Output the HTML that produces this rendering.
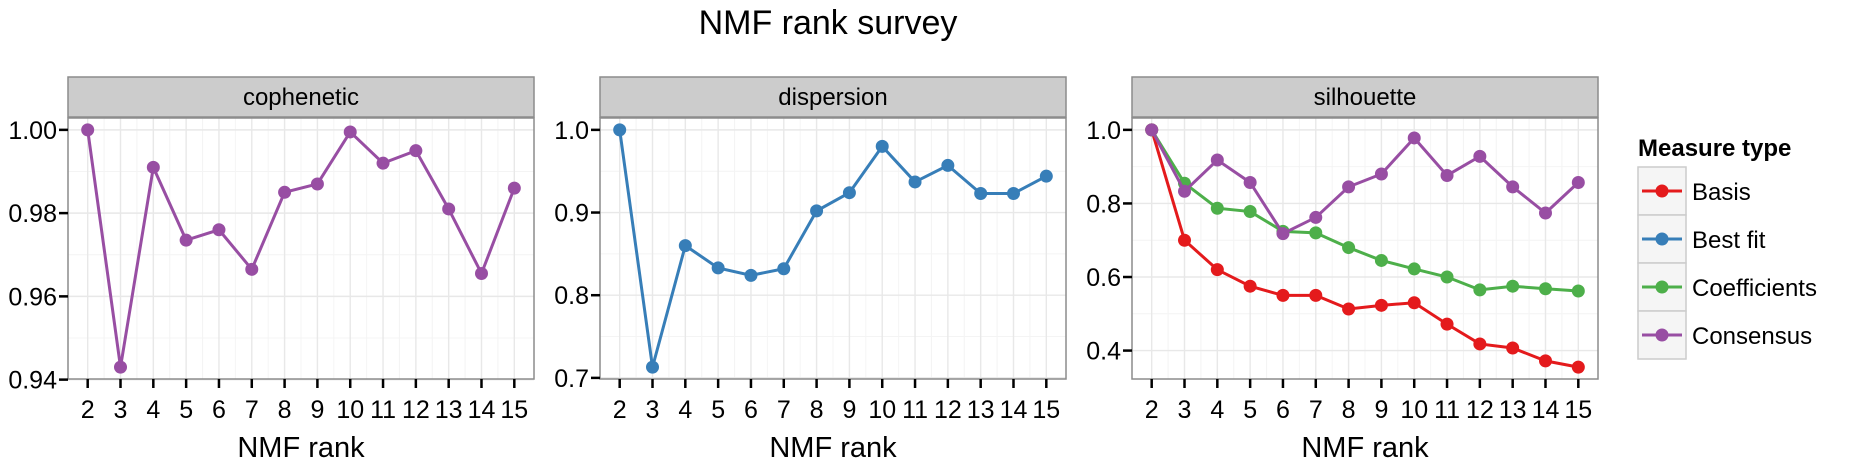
<!DOCTYPE html>
<html><head><meta charset="utf-8"><style>
html,body{margin:0;padding:0;background:#fff;}
svg{display:block;font-family:"Liberation Sans",Arial,sans-serif;}
</style></head><body>
<svg id="chart" width="1849" height="471" viewBox="0 0 1849 471" xmlns="http://www.w3.org/2000/svg">
<text x="828" y="34" font-size="34" text-anchor="middle" fill="#000">NMF rank survey</text>
<g id="panels"></g>
<g>
<text x="1638" y="156" font-size="24" font-weight="bold">Measure type</text>
<g id="legend-keys"></g>
</g>
</svg>
<script>
const ranks = [2,3,4,5,6,7,8,9,10,11,12,13,14,15];
const cophenetic = [1.000,0.943,0.991,0.9735,0.976,0.9665,0.985,0.987,0.9995,0.992,0.995,0.981,0.9655,0.986];
const dispersion = [1.0,0.713,0.860,0.833,0.824,0.832,0.902,0.924,0.980,0.937,0.957,0.923,0.923,0.944];
const silBasis = [1.0,0.70,0.62,0.575,0.55,0.55,0.513,0.523,0.53,0.472,0.418,0.407,0.372,0.355];
const silCoefficients = [1.0,0.855,0.787,0.778,0.724,0.72,0.68,0.645,0.622,0.60,0.565,0.575,0.568,0.562];
const silConsensus = [1.0,0.833,0.918,0.857,0.718,0.762,0.845,0.88,0.978,0.876,0.928,0.845,0.774,0.857];
const copheneticTicks = [0.94,0.96,0.98,1.00];
const dispersionTicks = [0.7,0.8,0.9,1.0];
const silhouetteTicks = [0.4,0.6,0.8,1.0];
const legendLabels = ["Basis","Best fit","Coefficients","Consensus"];

const NS="http://www.w3.org/2000/svg";
const COL={"Basis":"#E41A1C","Best fit":"#377EB8","Coefficients":"#4DAF4A","Consensus":"#984EA3"};
function mk(tag,attrs,parent){const e=document.createElementNS(NS,tag);for(const k in attrs)e.setAttribute(k,attrs[k]);parent.appendChild(e);return e;}
const panelsG=document.getElementById('panels');
const plotTop=118,plotBottom=379,W=466;
const panels=[
 {name:"cophenetic",left:68,series:[["Consensus",cophenetic]],ticks:copheneticTicks,dec:2},
 {name:"dispersion",left:600,series:[["Best fit",dispersion]],ticks:dispersionTicks,dec:1},
 {name:"silhouette",left:1132,series:[["Basis",silBasis],["Coefficients",silCoefficients],["Consensus",silConsensus]],ticks:silhouetteTicks,dec:1}
];
panels.forEach(p=>{
 const g=mk('g',{},panelsG);
 
 
 let mn=Infinity,mx=-Infinity;p.series.forEach(s=>s[1].forEach(v=>{mn=Math.min(mn,v);mx=Math.max(mx,v);}));
 const r=mx-mn, lo=mn-0.05*r, hi=mx+0.05*r;
 const y=v=>plotBottom-(v-lo)/(hi-lo)*(plotBottom-plotTop);
 const xlo=ranks[0]-0.6, xhi=ranks[ranks.length-1]+0.6;
 const x=v=>p.left+(v-xlo)/(xhi-xlo)*W;
 mk('rect',{x:p.left,y:plotTop,width:W,height:plotBottom-plotTop,fill:'#fff'},g);
 for(let i=0;i<ranks.length-1;i++){const xv=x(ranks[i]+0.5);mk('line',{x1:xv,x2:xv,y1:plotTop,y2:plotBottom,stroke:'#f4f4f4','stroke-width':1},g);}
 for(let i=0;i<p.ticks.length-1;i++){const yv=y((p.ticks[i]+p.ticks[i+1])/2);mk('line',{x1:p.left,x2:p.left+W,y1:yv,y2:yv,stroke:'#f4f4f4','stroke-width':1},g);}
 ranks.forEach(rk=>{const xv=x(rk);mk('line',{x1:xv,x2:xv,y1:plotTop,y2:plotBottom,stroke:'#e8e8e8','stroke-width':1.4},g);});
 p.ticks.forEach(t=>{const yv=y(t);mk('line',{x1:p.left,x2:p.left+W,y1:yv,y2:yv,stroke:'#e8e8e8','stroke-width':1.4},g);});
 mk('rect',{x:p.left,y:plotTop,width:W,height:plotBottom-plotTop,fill:'none',stroke:'#8c8c8c','stroke-width':1.5},g);
 const strip=mk('rect',{x:p.left,y:77,width:W,height:40,fill:'#cccccc',stroke:'#8c8c8c','stroke-width':1.5},g);
 
 
 const st=mk('text',{x:p.left+W/2,y:105,'font-size':24,'text-anchor':'middle'},g);st.textContent=p.name;
 
 
 p.ticks.forEach(t=>{const yv=y(t);
  mk('line',{x1:p.left-9,x2:p.left,y1:yv,y2:yv,stroke:'#000','stroke-width':2.5},g);
  const tx=mk('text',{x:p.left-11,y:yv+9,'font-size':25,'text-anchor':'end'},g);tx.textContent=t.toFixed(p.dec);
  
  });
 ranks.forEach(rk=>{const xv=x(rk);
  mk('line',{x1:xv,x2:xv,y1:plotBottom,y2:plotBottom+9,stroke:'#000','stroke-width':2.5},g);
  const tx=mk('text',{x:xv,y:418,'font-size':25,'text-anchor':'middle'},g);tx.textContent=rk;
  
  });
 const xt=mk('text',{x:p.left+W/2,y:457,'font-size':29,'text-anchor':'middle'},g);xt.textContent='NMF rank';
 
 
 p.series.forEach(([nm,vals])=>{
  const c=COL[nm];
  const pl=mk('polyline',{points:vals.map((v,i)=>x(ranks[i])+','+y(v)).join(' '),fill:'none',stroke:c,'stroke-width':3},g);
  
  
  vals.forEach((v,i)=>{const ci=mk('circle',{cx:x(ranks[i]),cy:y(v),r:6.5,fill:c},g);
   
   });
 });
});
const lk=document.getElementById('legend-keys');
legendLabels.forEach((lab,i)=>{
 const y0=167+i*48;
 const g=mk('g',{},lk);
 
 
 mk('rect',{x:1638,y:y0,width:48,height:48,fill:'#f5f5f5',stroke:'#cccccc','stroke-width':1.5},g);
 mk('line',{x1:1642,x2:1682,y1:y0+24,y2:y0+24,stroke:COL[lab],'stroke-width':3},g);
 mk('circle',{cx:1662,cy:y0+24,r:6.5,fill:COL[lab]},g);
 const t=mk('text',{x:1692,y:y0+33,'font-size':24},g);t.textContent=lab;
});
</script>
</body></html>
